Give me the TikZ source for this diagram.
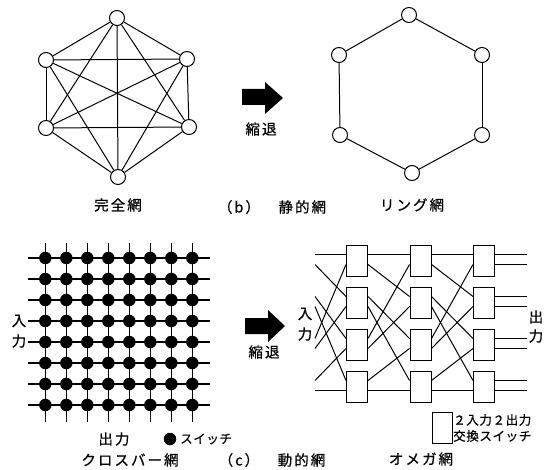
\documentclass[tikz,border=0pt]{standalone}
\usepackage{fontspec}
\newfontfamily\jp[LetterSpace=14,FakeBold=0.6]{Noto Sans CJK JP}
\newfontfamily\jps[LetterSpace=5,FakeBold=0.6]{Noto Sans CJK JP}
\usetikzlibrary{calc}
\begin{document}
\begin{tikzpicture}[x=1pt,y=-1pt,
  vtx/.style={circle,draw,fill=white,minimum size=15pt,inner sep=0pt,line width=1pt},
  edge/.style={line width=1pt},
  swdot/.style={circle,fill=black,minimum size=12.5pt,inner sep=0pt},
  gridline/.style={line width=1.1pt},
  xbox/.style={draw,fill=white,minimum width=21pt,minimum height=31pt,inner sep=0pt,line width=1pt},
  wire/.style={line width=1pt},
  bigarrow/.style={fill=black},
  lbl/.style={font=\jp\fontsize{14.5}{16}\selectfont,inner sep=0pt},
  slbl/.style={font=\jps\fontsize{12.5}{14}\selectfont,inner sep=0pt},
]
\useasboundingbox (0,0) rectangle (553,470);

% ---------- complete graph ----------
\foreach \n/\x/\y in {a1/117/18,a2/187/59,a3/189/127,a4/118/177,a5/46/128,a6/46/60}
  \node[vtx] (\n) at (\x,\y) {};
\foreach \u/\v in {a1/a2,a1/a3,a1/a4,a1/a5,a1/a6,a2/a3,a2/a4,a2/a5,a2/a6,a3/a4,a3/a5,a3/a6,a4/a5,a4/a6,a5/a6}
  \draw[edge] (\u) -- (\v);
\node[lbl] (lblfull) at (118,205) {完全網};

% ---------- ring ----------
\foreach \n/\x/\y in {b1/409/15,b2/482/55,b3/482/135,b4/412/173,b5/340/135,b6/339/55}
  \node[vtx] (\n) at (\x,\y) {};
\foreach \u/\v in {b1/b2,b2/b3,b3/b4,b4/b5,b5/b6,b6/b1}
  \draw[edge] (\u) -- (\v);
\node[lbl] (lblring) at (412,205) {リング網};

% ---------- arrows ----------
\fill[bigarrow] (242,89) -- (265,89) -- (265,82) -- (283,98) -- (265,114) -- (265,105) -- (242,105) -- cycle;
\node[lbl] (shrink1) at (261,129) {縮退};
\node[lbl] (capb) at (272,207) {（b）　静的網};

\fill[bigarrow] (245,318) -- (268,318) -- (268,310) -- (285,326) -- (268,342) -- (268,334) -- (245,334) -- cycle;
\node[lbl] (shrink2) at (264,352) {縮退};
\node[lbl] (capc) at (272,460) {（c）　動的網};

% ---------- crossbar ----------
\foreach \i in {0,...,7}{
  \pgfmathsetmacro\yy{258+21*\i}
  \pgfmathsetmacro\xx{45.3+21*\i}
  \coordinate (hl\i) at (28,\yy);
  \coordinate (hr\i) at (210,\yy);
  \coordinate (vt\i) at (\xx,243);
  \coordinate (vb\i) at (\xx,422);
}
\foreach \i in {0,...,7}{
  \draw[gridline] (hl\i) -- (hr\i);
  \draw[gridline] (vt\i) -- (vb\i);
}
\foreach \i in {0,...,7}{
  \foreach \j in {0,...,7}{
    \node[swdot] (s\i\j) at (45.3+21*\i,258+21*\j) {};
  }
}
\node[lbl] (xin1) at (19,321) {入};
\node[lbl] (xin2) at (19,341) {力};
\node[lbl] (xout) at (114,439) {出力};
\node[swdot] (legdot) at (170,439) {};
\node[slbl,anchor=west] (legsw) at (180,439) {スイッチ};
\node[lbl] (lblxbar) at (130,460) {クロスバー網};

% ---------- omega ----------
\foreach \c/\cx in {1/357,2/420.5,3/484}{
  \foreach \r/\ry in {0/261,1/303,2/345,3/387}{
    \node[xbox] (o\c\r) at (\cx,\ry) {};
    \pgfmathtruncatemacro\pa{2*\r}
    \pgfmathtruncatemacro\pb{2*\r+1}
    \coordinate (L\c-\pa) at ([yshift=6.5pt]o\c\r.west);
    \coordinate (L\c-\pb) at ([yshift=-3.5pt]o\c\r.west);
    \coordinate (R\c-\pa) at ([yshift=6.5pt]o\c\r.east);
    \coordinate (R\c-\pb) at ([yshift=-3.5pt]o\c\r.east);
  }
}
\foreach \i in {0,...,7}{
  \pgfmathsetmacro\py{261+42*int(\i/2)+(mod(\i,2)==0 ? -6.5 : 3.5)}
  \coordinate (in\i) at (315,\py);
  \coordinate (out\i) at (527,\py);
}
\foreach \i in {0,...,7}{
  \pgfmathtruncatemacro\d{mod(2*\i,8)+int(\i/4)}
  \draw[wire] (in\i) -- (L1-\d);
  \draw[wire] (R1-\i) -- (L2-\d);
  \draw[wire] (R2-\i) -- (L3-\d);
  \draw[wire] (R3-\i) -- (out\i);
}
\node[lbl] (oin1) at (305,314) {入};
\node[lbl] (oin2) at (305,334) {力};
\node[lbl] (oout1) at (536,317) {出};
\node[lbl] (oout2) at (536,336) {力};
\node[xbox,minimum width=20pt] (legbox) at (442,428) {};
\node[slbl,anchor=west] (legt1) at (453,420) {２入力２出力};
\node[slbl,anchor=west] (legt2) at (453,436) {交換スイッチ};
\node[lbl] (lblomega) at (421,459) {オメガ網};
\end{tikzpicture}
\end{document}
